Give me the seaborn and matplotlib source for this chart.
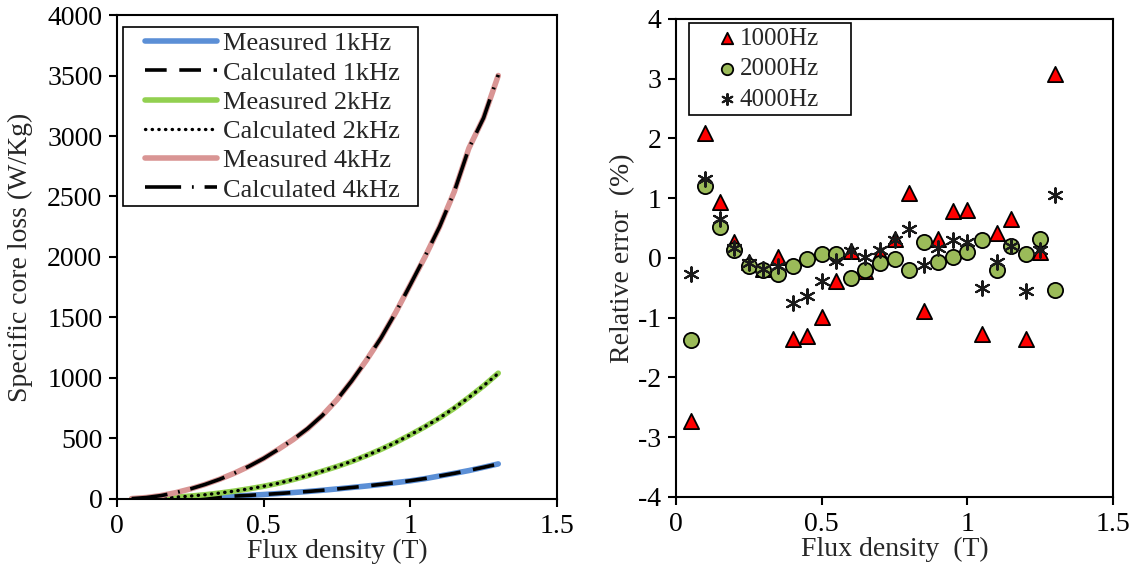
import numpy as np
import pandas as pd
import matplotlib
matplotlib.use('Agg')
import matplotlib.pyplot as plt
from matplotlib.lines import Line2D
from matplotlib.collections import PathCollection
from matplotlib.legend_handler import HandlerLine2D, HandlerPathCollection
import seaborn as sns

# flux density grid (T)
flux = [0.05, 0.10, 0.15, 0.20, 0.25, 0.30, 0.35, 0.40, 0.45, 0.50, 0.55, 0.60, 0.65,
        0.70, 0.75, 0.80, 0.85, 0.90, 0.95, 1.00, 1.05, 1.10, 1.15, 1.20, 1.25, 1.30]

# specific core loss (W/Kg)
meas_1k = [0.5, 2, 4, 6, 9, 13, 18, 24, 30, 37, 45, 53, 62,
           72, 83, 95, 107, 120, 135, 150, 168, 190, 212, 235, 262, 290]
calc_1k = [0.5, 2, 4, 6, 9, 13, 18, 24, 30, 37, 45, 53, 62,
           72, 83, 95, 107, 121, 135, 151, 169, 190, 212, 236, 262, 289]
meas_2k = [1, 4, 8, 15, 24, 35, 49, 65, 84, 105, 130, 160, 193,
           230, 268, 310, 358, 410, 467, 530, 597, 670, 750, 840, 935, 1040]
calc_2k = [1, 4, 8, 15, 24, 35, 49, 65, 84, 105, 130, 160, 193,
           230, 268, 311, 358, 410, 467, 530, 598, 670, 752, 840, 936, 1038]
meas_4k = [3, 12, 28, 52, 83, 120, 163, 213, 270, 335, 410, 490, 580,
           690, 820, 975, 1145, 1330, 1540, 1770, 2000, 2250, 2540, 2900, 3150, 3500]
calc_4k = [3, 12, 28, 52, 83, 120, 163, 213, 270, 335, 410, 490, 582,
           690, 820, 975, 1145, 1330, 1540, 1770, 2005, 2250, 2540, 2900, 3150, 3505]

# relative error (%)
err_1000 = [-2.73, 2.09, 0.94, 0.26, -0.06, -0.18, 0.02, -1.35, -1.31, -0.98, -0.38, 0.12, -0.22,
            0.08, 0.31, 1.09, -0.88, 0.31, 0.78, 0.81, -1.27, 0.42, 0.66, -1.36, 0.10, 3.08]
err_2000 = [-1.38, 1.20, 0.52, 0.13, -0.13, -0.20, -0.26, -0.13, -0.02, 0.07, 0.06, -0.34, -0.20,
            -0.09, -0.02, -0.20, 0.26, -0.06, 0.02, 0.10, 0.30, -0.20, 0.20, 0.07, 0.31, -0.53]
err_4000 = [-0.26, 1.32, 0.66, 0.16, -0.09, -0.19, -0.13, -0.76, -0.63, -0.38, -0.05, 0.12, 0.01,
            0.14, 0.30, 0.48, -0.12, 0.16, 0.30, 0.27, -0.50, -0.06, 0.20, -0.55, 0.13, 1.05]

x_ticks = [0, 0.5, 1, 1.5]
x_tick_labels = ['0', '0.5', '1', '1.5']

sns.set_style('ticks')
plt.rcParams['font.family'] = ['Liberation Serif', 'DejaVu Serif']
plt.rcParams['axes.unicode_minus'] = False
plt.rcParams['font.size'] = 20
plt.rcParams['axes.linewidth'] = 1.5
plt.rcParams['xtick.major.width'] = 1.5
plt.rcParams['ytick.major.width'] = 1.5
plt.rcParams['xtick.major.size'] = 5.5
plt.rcParams['ytick.major.size'] = 5.5
plt.rcParams['xtick.color'] = 'black'
plt.rcParams['ytick.color'] = 'black'
plt.rcParams['axes.edgecolor'] = 'black'

fig = plt.figure(figsize=(11.41, 5.75), dpi=100)
ax1 = fig.add_axes([0.1025, 0.1322, 0.3856, 0.8417])
ax2 = fig.add_axes([0.5925, 0.1357, 0.383, 0.8313])

df = pd.DataFrame({
    'flux': flux,
    'meas_1k': meas_1k, 'calc_1k': calc_1k,
    'meas_2k': meas_2k, 'calc_2k': calc_2k,
    'meas_4k': meas_4k, 'calc_4k': calc_4k,
    'err_1000': err_1000, 'err_2000': err_2000, 'err_4000': err_4000,
})

# Left panel: core loss curves
sns.lineplot(data=df, x='flux', y='meas_1k', ax=ax1, color='#5B8FD6', lw=4,
             label='Measured 1kHz', solid_capstyle='round')
sns.lineplot(data=df, x='flux', y='calc_1k', ax=ax1, color='black', lw=2.6,
             label='Calculated 1kHz', dashes=False, linestyle=(0, (6, 3.5)))
sns.lineplot(data=df, x='flux', y='meas_2k', ax=ax1, color='#92D050', lw=4,
             label='Measured 2kHz', solid_capstyle='round')
sns.lineplot(data=df, x='flux', y='calc_2k', ax=ax1, color='black', lw=2.4,
             label='Calculated 2kHz', dashes=False, linestyle=(0, (0.1, 1.9)),
             dash_capstyle='round')
sns.lineplot(data=df, x='flux', y='meas_4k', ax=ax1, color='#D99594', lw=4,
             label='Measured 4kHz', solid_capstyle='round')
sns.lineplot(data=df, x='flux', y='calc_4k', ax=ax1, color='black', lw=2.6,
             label='Calculated 4kHz', dashes=False, linestyle=(0, (10, 3, 0.5, 3)))

ax1.set_xlim(0, 1.5)
ax1.set_ylim(0, 4000)
ax1.set_xticks(x_ticks, x_tick_labels)
ax1.set_yticks(np.arange(0, 4001, 500))
ax1.set_xlabel('Flux density (T)', labelpad=0)
ax1.set_ylabel('Specific core loss (W/Kg)', labelpad=10)
leg1 = ax1.legend(loc='upper left', bbox_to_anchor=(0.0136, 0, 0.670, 0.975), mode='expand',
                  frameon=True, fancybox=False, edgecolor='black', framealpha=1,
                  fontsize=19, handlelength=3.37, handletextpad=0.23, borderpad=0.18,
                  labelspacing=0.22, borderaxespad=0,
                  handler_map={Line2D: HandlerLine2D(xpad=0.64)})
leg1.get_frame().set_linewidth(1.2)

# Right panel: relative error
sns.scatterplot(data=df, x='flux', y='err_1000', ax=ax2, marker='^', s=120,
                color='#FF0000', edgecolor='black', linewidth=1.3, label='1000Hz', zorder=3)
sns.scatterplot(data=df, x='flux', y='err_2000', ax=ax2, marker='o', s=120,
                color='#9BBB59', edgecolor='black', linewidth=1.3, label='2000Hz', zorder=4)
sns.scatterplot(data=df, x='flux', y='err_4000', ax=ax2, marker=(6, 2, 0), s=110,
                color='#1a1a1a', linewidth=1.5, label='4000Hz', zorder=5)

ax2.set_xlim(0, 1.5)
ax2.set_ylim(-4, 4)
ax2.set_xticks(x_ticks, x_tick_labels)
ax2.set_yticks(np.arange(-4, 5, 1))
ax2.set_xlabel('Flux density  (T)', labelpad=0)
ax2.set_ylabel('Relative error  (%)', labelpad=2)
leg2 = ax2.legend(loc='upper left', bbox_to_anchor=(0.0297, 0, 0.371, 0.9916), mode='expand',
                  frameon=True, fancybox=False, edgecolor='black', framealpha=1,
                  fontsize=18, handlelength=1.6, handletextpad=0.25, borderpad=0.18,
                  labelspacing=0.32, borderaxespad=0, markerscale=0.75,
                  handler_map={PathCollection: HandlerPathCollection(xpad=1.1)})
leg2.get_frame().set_linewidth(1.2)

for ax in (ax1, ax2):
    for side in ('top', 'right', 'left', 'bottom'):
        ax.spines[side].set_visible(True)
        ax.spines[side].set_color('black')
    ax.tick_params(direction='out', labelsize=20, pad=5)

fig.savefig('out.png', dpi=100)
